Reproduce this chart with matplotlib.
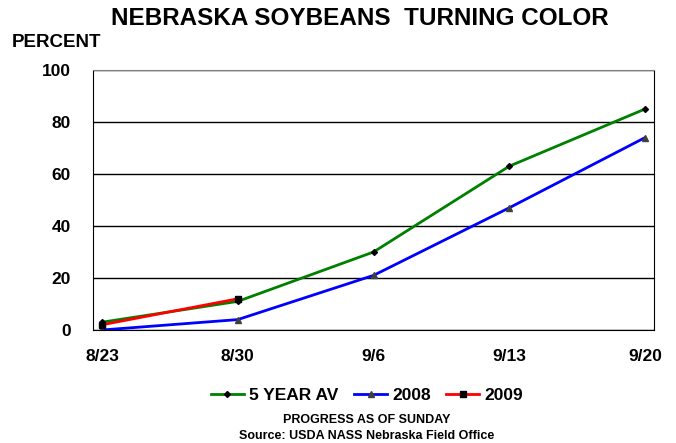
import matplotlib.pyplot as plt

dates = ['8/23', '8/30', '9/6', '9/13', '9/20']
avg5 = [3, 11, 30, 63, 85]
y2008 = [0, 4, 21, 47, 74]
y2009 = [2, 12]

plt.rcParams['font.family'] = ['Liberation Sans', 'DejaVu Sans']
plt.rcParams['font.weight'] = 'bold'

fig = plt.figure(figsize=(6.76, 4.43), dpi=100)
ax = fig.add_axes([93 / 676, 1 - 330 / 443, 561 / 676, 260 / 443])

x = list(range(len(dates)))
ax.plot(x, avg5, color='#008000', lw=2, marker='D', ms=3, mfc='black', mec='black', label='5 YEAR AV')
ax.plot(x, y2008, color='#0000ff', lw=2, marker='^', ms=4.5, mfc='#404040', mec='#404040', label='2008')
ax.plot(x[:len(y2009)], y2009, color='#ff0000', lw=2, marker='s', ms=4.5, mfc='black', mec='black', label='2009')

ax.set_xlim(-0.066, 4.066)
ax.set_ylim(0, 100)
ax.set_yticks(range(0, 101, 20))
ax.set_xticks(x)
ax.set_xticklabels(dates)
ax.tick_params(axis='both', length=0, labelsize=12.5)
ax.tick_params(axis='x', pad=14)
ax.tick_params(axis='y', pad=16)
ax.yaxis.grid(True, color='black', lw=1)
ax.set_axisbelow(True)
ax.spines['top'].set_color('#808080')
ax.spines['right'].set_color('black')
ax.spines['left'].set_color('black')
ax.spines['bottom'].set_color('black')

fig.text(0.533, 0.958, 'NEBRASKA SOYBEANS  TURNING COLOR', ha='center', va='center', fontsize=17.5)
fig.text(0.017, 0.905, 'PERCENT', ha='left', va='center', fontsize=13.5)

fig.legend(loc='center', bbox_to_anchor=(0.543, 0.108), ncol=3, frameon=False, fontsize=12.5,
           handlelength=1.9, columnspacing=0.9, handletextpad=0.3)

fig.text(0.543, 0.052, 'PROGRESS AS OF SUNDAY', ha='center', va='center', fontsize=9)
fig.text(0.543, 0.015, 'Source: USDA NASS Nebraska Field Office', ha='center', va='center', fontsize=9)

fig.savefig('out.png', dpi=100)
